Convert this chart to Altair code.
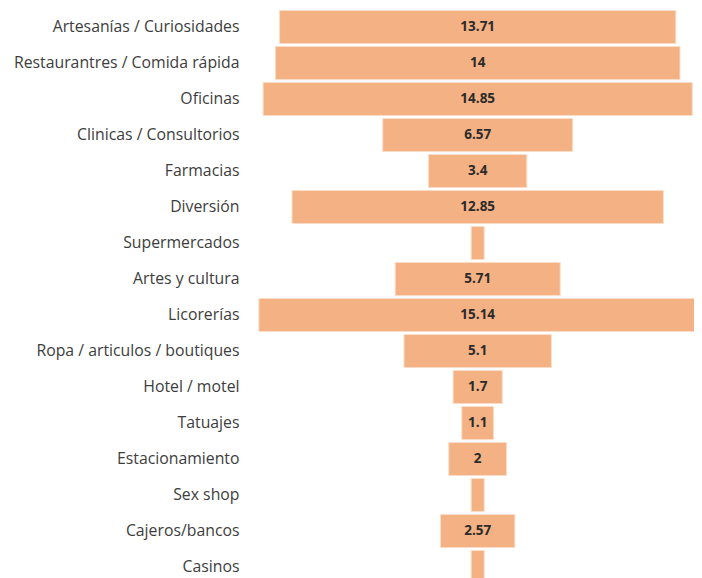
import altair as alt
import pandas as pd

categories = [
    "Artesanías / Curiosidades",
    "Restaurantres / Comida rápida",
    "Oficinas",
    "Clinicas / Consultorios",
    "Farmacias",
    "Diversión",
    "Supermercados",
    "Artes y cultura",
    "Licorerías",
    "Ropa / articulos / boutiques",
    "Hotel / motel",
    "Tatuajes",
    "Estacionamiento",
    "Sex shop",
    "Cajeros/bancos",
    "Casinos",
]
values = [13.71, 14, 14.85, 6.57, 3.4, 12.85, 0.45, 5.71, 15.14, 5.1, 1.7, 1.1, 2, 0.45, 2.57, 0.45]
labels = ["13.71", "14", "14.85", "6.57", "3.4", "12.85", "", "5.71", "15.14", "5.1", "1.7", "1.1", "2", "", "2.57", ""]

df = pd.DataFrame({"cat": categories, "v": values, "label": labels})
df["lo"] = -df["v"] / 2
df["hi"] = df["v"] / 2

W = 444
center = 227.7
ppu = 28.9
xdom = [-center / ppu, (W - center) / ppu]

yscale = alt.Scale(range=[1, 577], paddingInner=0.0833, paddingOuter=0.0417)
xscale = alt.Scale(domain=xdom, nice=False, zero=False)

base = alt.Chart(df)

bars = base.mark_bar(color="#F4B183", stroke="#FBDCC6", strokeWidth=1, clip=False).encode(
    y=alt.Y("cat:N", sort=None, scale=yscale, title=None,
            axis=alt.Axis(ticks=False, domain=False, labelPadding=11,
                          labelFont="Open Sans", labelFontSize=15.8,
                          labelColor="#3d3d3d", labelLimit=300)),
    x=alt.X("lo:Q", scale=xscale, axis=None),
    x2="hi:Q",
)

text = base.mark_text(font="Open Sans", fontWeight="bold", fontSize=13.5, color="#2b2b2b").encode(
    y=alt.Y("cat:N", sort=None, scale=yscale),
    x=alt.value(center),
    text="label:N",
)

chart = (bars + text).properties(
    width=W,
    height=570,
    padding={"left": 242, "right": 0, "top": 0, "bottom": 0},
    autosize=alt.AutoSizeParams(type="none"),
).configure_view(stroke=None).configure_axis(grid=False)

chart.save("out.html", embed_options={"renderer": "svg", "actions": False})
